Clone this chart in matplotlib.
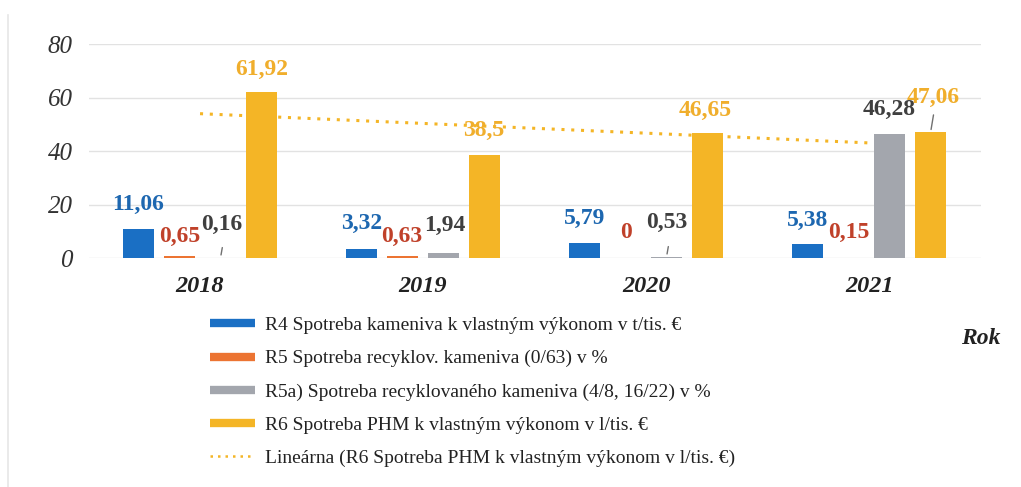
import numpy as np
import matplotlib.pyplot as plt
from matplotlib.lines import Line2D

# data
years = ['2018', '2019', '2020', '2021']
r4 = [11.06, 3.32, 5.79, 5.38]
r5 = [0.65, 0.63, 0.0, 0.15]
r5a = [0.16, 1.94, 0.53, 46.28]
r6 = [61.92, 38.5, 46.65, 47.06]

names = ['R4 Spotreba kameniva k vlastným výkonom v t/tis. €',
         'R5 Spotreba recyklov. kameniva (0/63) v %',
         'R5a) Spotreba recyklovaného kameniva (4/8, 16/22) v %',
         'R6 Spotreba PHM k vlastným výkonom v l/tis. €',
         'Lineárna (R6 Spotreba PHM k vlastným výkonom v l/tis. €)']

bar_cols = ['#1a6fc4', '#ec7432', '#a3a6ad', '#f4b526']
lab_cols = ['#1d67b0', '#c0412a', '#3f3f3f', '#f0ae2c']

# label offsets in points (dx, dy) from bar top centre, one row per series
offs = [
    [(0, 17.5), (0, 18.7), (0, 17.6), (0, 17)],
    [(0, 14.4), (-0.5, 14.4), (0, 18.7), (0, 18)],
    [(1, 23.7), (0.7, 20), (0, 25), (0, 18)],
    [(0, 16.8), (-0.7, 18), (-1.5, 16.7), (1.5, 25)],
]

plt.rcParams['font.family'] = ['Liberation Serif', 'DejaVu Serif']

fig = plt.figure(figsize=(10.21, 4.87), dpi=100)
ax = fig.add_axes([0.0867, 0.470, 0.8737, 0.4394])

x = np.arange(len(years))
w = 0.14
step = 0.184
series = [r4, r5, r5a, r6]
for k, vals in enumerate(series):
    pos = x + (k - 1.5) * step
    ax.bar(pos, vals, width=w, color=bar_cols[k], zorder=3)
    for i, v in enumerate(vals):
        dx, dy = offs[k][i]
        txt = f'{v:g}'.replace('.', ',')
        ax.annotate(txt, (pos[i], v), xytext=(dx, dy), textcoords='offset points',
                    ha='center', va='center', fontsize=17, fontweight='bold',
                    color=lab_cols[k], zorder=5, annotation_clip=False)

# leader lines for small gray labels and 47,06
for i in [0, 2]:
    px = x[i] + 0.5 * step
    ax.annotate('', (px, r5a[i]), xytext=(px + 0.01, r5a[i] + 4.8),
                arrowprops=dict(arrowstyle='-', color='#707070', lw=1))
px = x[3] + 1.5 * step
ax.annotate('', (px, r6[3]), xytext=(px + 0.015, r6[3] + 7.5),
            arrowprops=dict(arrowstyle='-', color='#707070', lw=1), zorder=6)

# linear trend of R6
p = np.polyfit(x, r6, 1)
ax.plot(x, np.polyval(p, x), linestyle=(0, (1, 2.2)), color='#f4b526', lw=2.2, zorder=4)

ax.set_xlim(-0.5, 3.5)
ax.set_ylim(0, 80)
ax.set_yticks([0, 20, 40, 60, 80])
ax.set_xticks(x)
ax.set_xticklabels(years, fontsize=17.5, fontweight='bold', style='italic', color='#222222')
ax.tick_params(axis='y', labelsize=18, length=0, pad=11.5, labelcolor='#333333')
ax.tick_params(axis='x', length=0, pad=13)
for t in ax.get_yticklabels():
    t.set_style('italic')
ax.grid(axis='y', color='#e2e2e2', lw=1, zorder=0)
for s in ax.spines.values():
    s.set_visible(False)

handles = [Line2D([0], [0], color=c, lw=6, solid_capstyle='butt') for c in bar_cols]
handles.append(Line2D([0], [0], color='#f4b526', lw=1.8, linestyle=(0, (1, 2))))
fig.legend(handles, names, loc='upper left', bbox_to_anchor=(0.206, 0.35),
           frameon=False, fontsize=14, handlelength=2.3, handletextpad=0.5,
           labelspacing=0.8, borderaxespad=0, borderpad=0, labelcolor='#222222')

fig.text(0.98, 0.305, 'Rok', fontsize=17, fontweight='bold', style='italic',
         ha='right', va='center', color='#222222')

# faint scan border at left
fig.add_artist(Line2D([0.008, 0.008], [0.0, 0.97], color='#e6e6e6', lw=1.2))

fig.savefig('out.png', dpi=100)
